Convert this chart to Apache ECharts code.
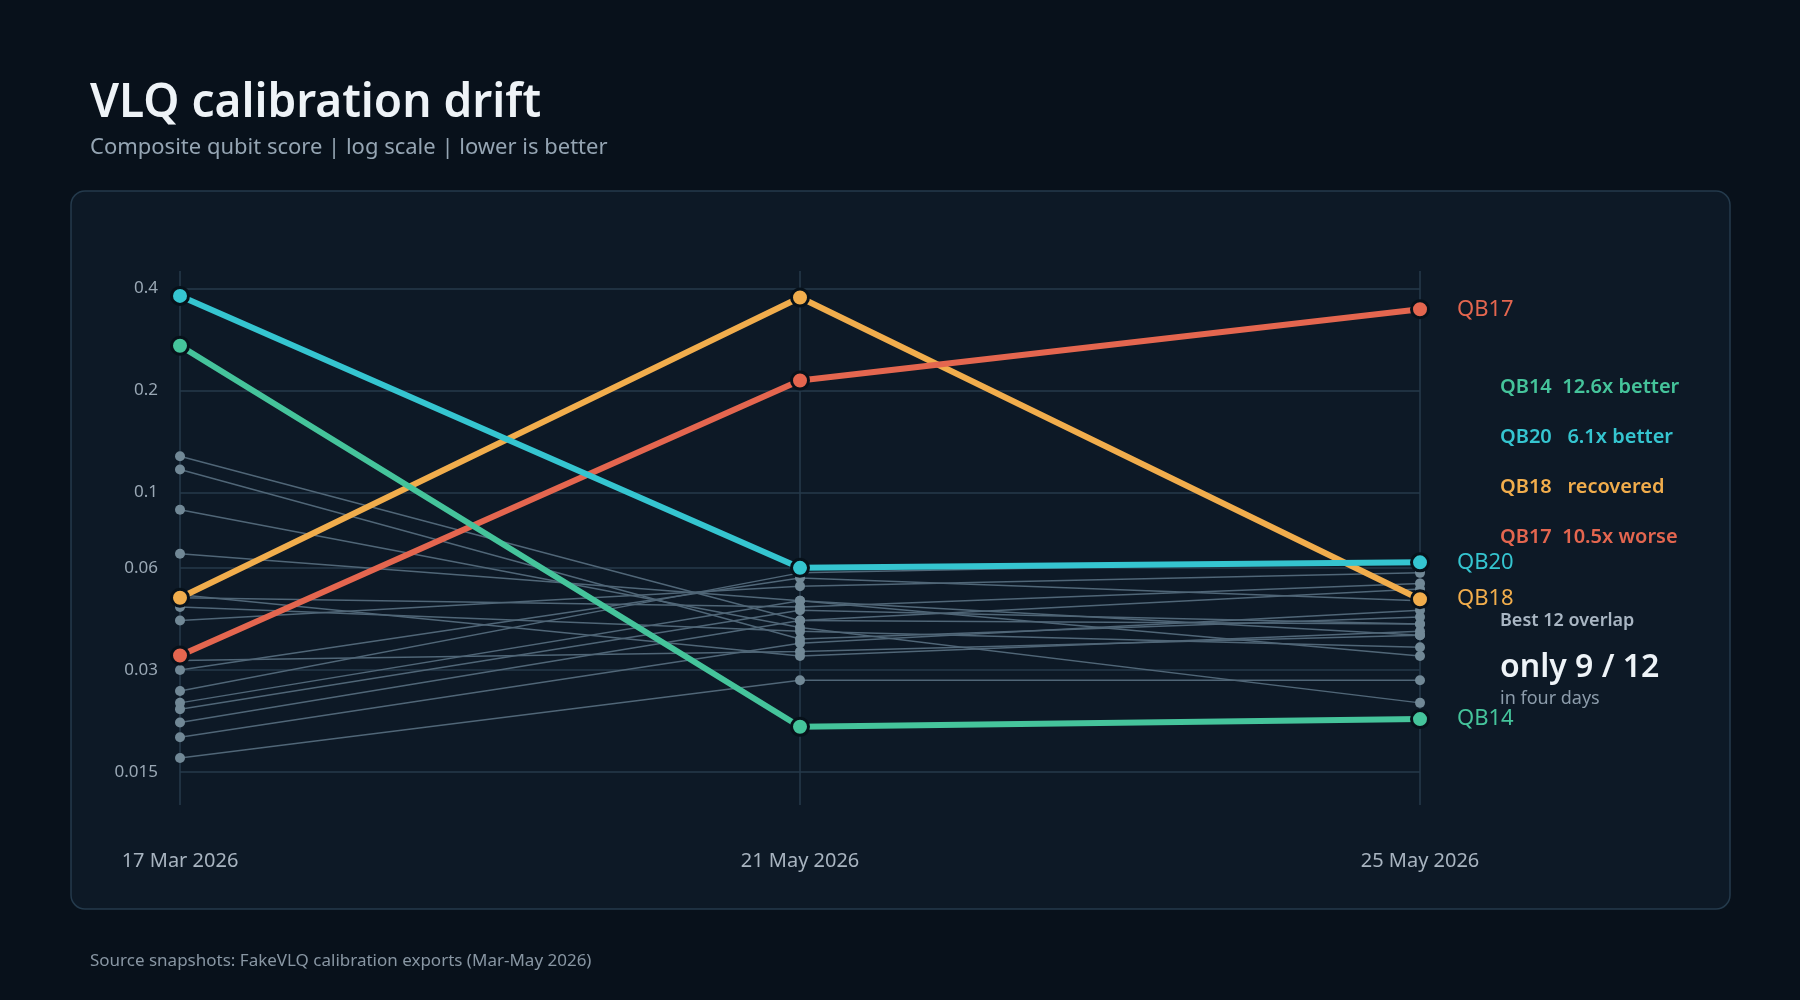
<!DOCTYPE html>
<html>
<head>
<meta charset="utf-8">
<style>
  html, body { margin: 0; padding: 0; background: #08111b; }
  #chart { width: 1800px; height: 1000px; }
</style>
<script src="https://cdn.jsdelivr.net/npm/echarts@6/dist/echarts.min.js"></script>
</head>
<body>
<div id="chart"></div>
<script>
  // snapshot dates (x categories)
  var dates = ['17 Mar 2026', '21 May 2026', '25 May 2026'];
  // gridline / tick values on the log axis
  var yTicks = [0.015, 0.03, 0.06, 0.1, 0.2, 0.4];

  // highlighted qubits
  var qb14 = [0.271, 0.0204, 0.0215];
  var qb20 = [0.38, 0.060, 0.0623];
  var qb18 = [0.049, 0.376, 0.0485];
  var qb17 = [0.0331, 0.214, 0.347];

  // the rest of the qubits (muted)
  var grayNames = ['QB1', 'QB2', 'QB3', 'QB4', 'QB5', 'QB6', 'QB7', 'QB8',
                   'QB9', 'QB10', 'QB11', 'QB12', 'QB13', 'QB15', 'QB16', 'QB19'];
  var grayValues = [
    [0.128, 0.042, 0.041],
    [0.117, 0.037, 0.043],
    [0.089, 0.040, 0.024],
    [0.066, 0.048, 0.038],
    [0.049, 0.046, 0.054],
    [0.046, 0.039, 0.035],
    [0.042, 0.053, 0.058],
    [0.032, 0.034, 0.038],
    [0.030, 0.056, 0.048],
    [0.026, 0.058, 0.063],
    [0.024, 0.048, 0.033],
    [0.023, 0.045, 0.041],
    [0.021, 0.042, 0.052],
    [0.019, 0.036, 0.045],
    [0.0165, 0.028, 0.028],
    [0.050, 0.033, 0.039]
  ];

  var notes = [
    ['QB14  12.6x better', '#45c49b'],
    ['QB20   6.1x better', '#35c5d0'],
    ['QB18   recovered', '#f1ad4c'],
    ['QB17  10.5x worse', '#e4664f']
  ];

  var font = '"Segoe UI", "Noto Sans", sans-serif';
  var gridColor = '#263a4b';

  var myChart = echarts.init(document.getElementById('chart'));

  var series = [];

  // muted lines, first one also carries the horizontal gridlines + y labels
  grayValues.forEach(function (vals, i) {
    var s = {
      name: grayNames[i],
      type: 'line',
      data: vals,
      z: 2,
      symbol: 'circle',
      symbolSize: 10,
      lineStyle: { color: '#506677', width: 1.5 },
      itemStyle: { color: '#718896' },
      emphasis: { disabled: true },
      silent: true
    };
    if (i === 0) {
      s.markLine = {
        silent: true,
        z: 1,
        precision: 4,
        symbol: ['none', 'none'],
        lineStyle: { color: gridColor, width: 1.5, type: 'solid' },
        label: {
          show: true,
          position: 'start',
          distance: 22,
          color: '#9aa8b5',
          fontSize: 17,
          fontFamily: font,
          formatter: function (p) { return String(p.value); }
        },
        data: yTicks.map(function (v) { return { yAxis: v }; })
      };
    }
    series.push(s);
  });

  function hl(name, vals, color) {
    return {
      name: name,
      type: 'line',
      data: vals,
      z: 5,
      symbol: 'circle',
      symbolSize: 17,
      lineStyle: { color: color, width: 6 },
      itemStyle: { color: color, borderColor: '#07111a', borderWidth: 3 },
      emphasis: { disabled: true },
      endLabel: {
        show: true,
        formatter: '{a}',
        distance: 37,
        color: color,
        fontSize: 22,
        fontFamily: font
      }
    };
  }

  series.push(hl('QB18', qb18, '#f1ad4c'));
  series.push(hl('QB17', qb17, '#e4664f'));
  series.push(hl('QB14', qb14, '#45c49b'));
  series.push(hl('QB20', qb20, '#35c5d0'));

  var graphics = [
    {
      type: 'rect', z: -10, silent: true,
      shape: { x: 71, y: 191, width: 1659, height: 718, r: 14 },
      style: { fill: '#0d1926', stroke: '#243a4c', lineWidth: 1.5 }
    },
    {
      type: 'text', left: 90, top: 81,
      style: { text: 'VLQ calibration drift', fill: '#eef3f7', fontSize: 46, fontWeight: 600, fontFamily: font }
    },
    {
      type: 'text', left: 90, top: 137,
      style: { text: 'Composite qubit score | log scale | lower is better', fill: '#95a5b3', fontSize: 22, fontFamily: font }
    },
    {
      type: 'text', left: 90, top: 953,
      style: { text: 'Source snapshots: FakeVLQ calibration exports (Mar-May 2026)', fill: '#8896a3', fontSize: 17, fontFamily: font }
    },
    {
      type: 'text', left: 1500, top: 612,
      style: { text: 'Best 12 overlap', fill: '#a9b6c3', fontSize: 18, fontWeight: 600, fontFamily: font }
    },
    {
      type: 'text', left: 1500, top: 652,
      style: { text: 'only 9 / 12', fill: '#eef3f7', fontSize: 32, fontWeight: 600, fontFamily: font }
    },
    {
      type: 'text', left: 1500, top: 690,
      style: { text: 'in four days', fill: '#8c9cab', fontSize: 18, fontFamily: font }
    }
  ];
  notes.forEach(function (n, i) {
    graphics.push({
      type: 'text', left: 1500, top: 377 + i * 50,
      style: { text: n[0], fill: n[1], fontSize: 20, fontWeight: 600, fontFamily: font }
    });
  });

  var option = {
    backgroundColor: '#08111b',
    animation: false,
    textStyle: { fontFamily: font },
    grid: { left: 180, right: 380, top: 271, bottom: 195 },
    xAxis: {
      type: 'category',
      data: dates,
      boundaryGap: false,
      axisLine: { show: false },
      axisTick: { show: false },
      axisLabel: { color: '#a8b4c0', fontSize: 20, margin: 46 },
      splitLine: { show: true, lineStyle: { color: gridColor, width: 1.5 } }
    },
    yAxis: {
      type: 'log',
      min: 0.012,
      max: 0.45,
      axisLine: { show: false },
      axisTick: { show: false },
      axisLabel: { show: false },
      splitLine: { show: false }
    },
    graphic: graphics,
    series: series
  };

  myChart.setOption(option);
</script>
</body>
</html>
